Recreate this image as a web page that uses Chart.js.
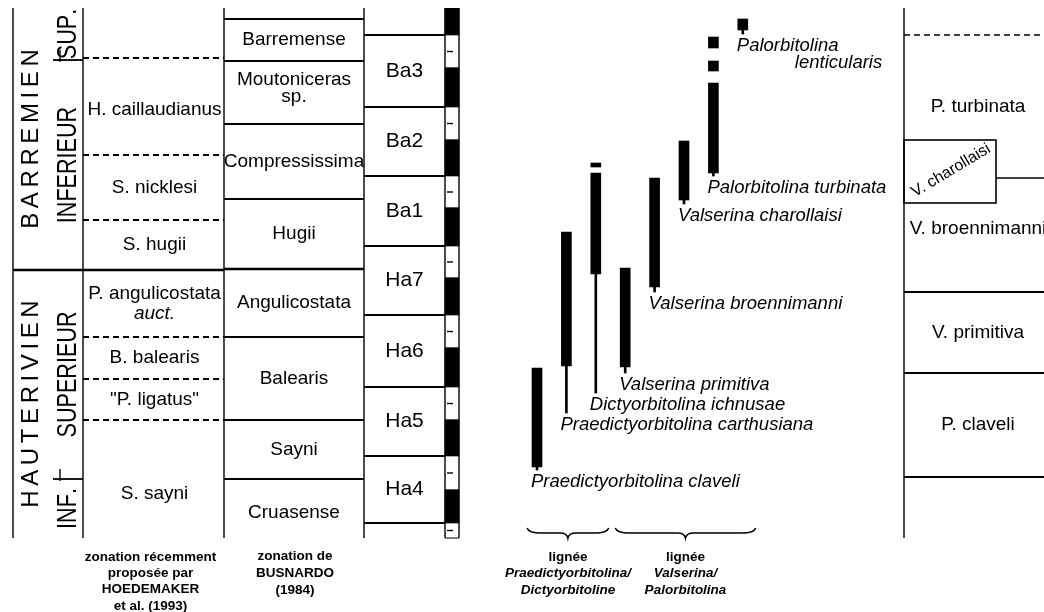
<!DOCTYPE html>
<html lang="fr">
<head>
<meta charset="UTF-8">
<title>Orbitolinidés de l'Hauterivien-Barrémien</title>
<script src="https://cdn.jsdelivr.net/npm/chart.js"></script>
<style>
  body { margin: 0; background: #fff; }
  canvas { display: block; }
</style>
</head>
<body>
<canvas id="zonation" width="1044" height="612"></canvas>
<script>
// niveaux en unités relatives : 0 = base du profil, 530 = sommet
const etages = ['BARREMIEN', 'HAUTERIVIEN'];
const limitesEtages = [530, 268, 0];
const sousEtages = ['SUP.', 'INFERIEUR', 'SUPERIEUR', 'INF.'];
const limitesSousEtages = [530, 478, 268, 59, 0];

// zonation HOEDEMAKER et al. (1993) ; la zone à S. sayni se poursuit sous le profil
const zonesHoedemaker = [['H. caillaudianus'], ['S. nicklesi'], ['S. hugii'], ['P. angulicostata', 'auct.'], ['B. balearis'], ['"P. ligatus"'], ['S. sayni']];
const limitesHoedemaker = [480, 383, 318, 268, 201, 159, 118, -30];

// zonation BUSNARDO (1984)
const zonesBusnardo = [['Barremense'], ['Moutoniceras', 'sp.'], ['Compressissima'], ['Hugii'], ['Angulicostata'], ['Balearis'], ['Sayni'], ['Cruasense']];
const limitesBusnardo = [519, 477, 414, 339, 269, 201, 118, 59, -9];

const zonesAmmonites = ['Ba3', 'Ba2', 'Ba1', 'Ha7', 'Ha6', 'Ha5', 'Ha4'];
const limitesAmmonites = [503, 431, 362, 292, 223, 151, 82, 15];

// intervalles en noir de la colonne de polarité
const polariteNoire = [[503, 530], [431, 470], [362, 398], [292, 330], [223, 260], [151, 190], [82, 118], [15, 48]];

// orbitolinidés : extension (trait épais), prolongement (trait fin vers le nom)
const especes = [['Praedictyorbitolina claveli'], ['Praedictyorbitolina carthusiana'], ['Dictyorbitolina ichnusae'], ['Valserina primitiva'], ['Valserina broennimanni'], ['Valserina charollaisi'], ['Palorbitolina turbinata'], ['Palorbitolina', 'lenticularis']];
const extensions = [[71, 170], [172, 306], [264, 365], [171, 270], [251, 360], [338, 397], [365, 455], [508, 519]];
const prolongements = [[68, 71], [125, 172], [145, 264], [165, 171], [246, 251], [334, 338], [362, 365], [504, 508]];
const occIsoleesEspece = [2, 6, 6];
const occIsolees = [[371, 375], [467, 477], [490, 501]];

const lignees = [['lignée', 'Praedictyorbitolina/', 'Dictyorbitoline'], ['lignée', 'Valserina/', 'Palorbitolina']];
const groupesLignees = [[0, 2], [3, 7]];
const legendesColonnes = [['zonation récemment', 'proposée par', 'HOEDEMAKER', 'et al. (1993)'], ['zonation de', 'BUSNARDO', '(1984)']];

// biozones à orbitolinidés
const zonesOrbitolines = ['P. turbinata', 'V. charollaisi', 'V. broennimanni', 'V. primitiva', 'P. claveli'];
const limitesOrbitolines = [[503, 360], [398, 335], [360, 246], [246, 165], [165, 61]];

// mise en page des colonnes
const X = { etage: 13, sousEtage: 83, hoed: 224, busn: 364, amm: 445, mag: 459, orb: 904, charol: 996, fin: 1044 };
const xEspece = i => 537 + i * 29.4;
const POLICE = "'Liberation Sans', Arial, Helvetica, sans-serif";

function trait(ctx, x1, y1, x2, y2, w, tirets) {
    ctx.beginPath();
    ctx.lineWidth = w;
    ctx.setLineDash(tirets || []);
    ctx.moveTo(x1, y1);
    ctx.lineTo(x2, y2);
    ctx.stroke();
}

function lignesTexte(ctx, lignes, x, y, font, interligne, align) {
    ctx.textAlign = align || 'center';
    ctx.textBaseline = 'middle';
    const y0 = y - (lignes.length - 1) * interligne / 2;
    lignes.forEach((l, k) => {
        ctx.font = (l === 'auct.' ? 'italic ' : '') + font;
        ctx.fillText(l, x, y0 + k * interligne);
    });
}

function texteVertical(ctx, str, cx, cy, taille, espacement, compression) {
    ctx.save();
    ctx.translate(cx, cy);
    ctx.rotate(-Math.PI / 2);
    ctx.scale(compression, 1);
    ctx.font = taille + 'px ' + POLICE;
    ctx.textAlign = 'left';
    ctx.textBaseline = 'middle';
    const car = [...str];
    const larg = car.map(c => ctx.measureText(c).width);
    let pos = -(larg.reduce((a, b) => a + b, 0) + espacement * (car.length - 1)) / 2;
    car.forEach((c, i) => { ctx.fillText(c, pos, 0); pos += larg[i] + espacement; });
    ctx.restore();
}

function accolade(ctx, x1, x2, yHaut, h) {
    const xm = (x1 + x2) / 2, ym = yHaut + h / 2;
    ctx.beginPath();
    ctx.lineWidth = 1.6;
    ctx.setLineDash([]);
    ctx.moveTo(x1, yHaut);
    ctx.quadraticCurveTo(x1 + 2, ym, x1 + 14, ym);
    ctx.lineTo(xm - 8, ym);
    ctx.quadraticCurveTo(xm - 1, ym, xm, yHaut + h);
    ctx.quadraticCurveTo(xm + 1, ym, xm + 8, ym);
    ctx.lineTo(x2 - 14, ym);
    ctx.quadraticCurveTo(x2 - 2, ym, x2, yHaut);
    ctx.stroke();
}

const colonnes = {
    id: 'colonnes',
    beforeDatasetsDraw(chart) {
        const { ctx, scales: { x, y } } = chart;
        const px = v => x.getPixelForValue(v);
        const py = v => y.getPixelForValue(v);
        ctx.save();
        ctx.strokeStyle = '#000';

        // cadre vertical des colonnes
        [X.etage, X.sousEtage, X.hoed, X.busn, X.amm, X.mag, X.orb].forEach(c =>
            trait(ctx, px(c), py(530), px(c), py(0), 1.4));

        // limite Barrémien / Hauterivien
        trait(ctx, px(X.etage), py(limitesEtages[1]), px(X.hoed), py(limitesEtages[1]), 2.6);

        // limites des sous-étages
        [limitesSousEtages[1], limitesSousEtages[3]].forEach(v => {
            trait(ctx, px(X.sousEtage) - 30, py(v), px(X.sousEtage), py(v), 1.8);
            trait(ctx, px(X.sousEtage) - 23, py(v) - 10, px(X.sousEtage) - 23, py(v) + 2, 1.4);
        });

        // zones Hoedemaker (tiretés)
        limitesHoedemaker.forEach(v => {
            if (v === limitesEtages[1] || v <= 0) return;
            trait(ctx, px(X.sousEtage), py(v), px(X.hoed), py(v), 1.8, [6, 4]);
        });

        // zones Busnardo
        limitesBusnardo.forEach(v => {
            if (v <= 0) return;
            trait(ctx, px(X.hoed), py(v), px(X.busn), py(v), v === 269 ? 2.6 : 1.8);
        });

        // zones Ba / Ha
        limitesAmmonites.forEach(v => trait(ctx, px(X.busn), py(v), px(X.amm), py(v), 1.8));

        // repères des intervalles blancs de la polarité
        polariteNoire.forEach((r, i) => {
            const bas = i + 1 < polariteNoire.length ? polariteNoire[i + 1][1] : 0;
            const mil = (r[0] + bas) / 2;
            trait(ctx, px(X.amm) + 2, py(mil), px(X.amm) + 8, py(mil), 1.4);
            trait(ctx, px(X.amm), py(bas), px(X.mag), py(bas), 1);
        });

        // biozones à orbitolinidés
        const [turb, charol, broen, prim, clav] = limitesOrbitolines;
        trait(ctx, px(X.orb), py(turb[0]), px(X.fin), py(turb[0]), 1.6, [6, 4]);
        ctx.setLineDash([]);
        ctx.lineWidth = 1.6;
        ctx.strokeRect(px(X.orb), py(charol[0]), px(X.charol) - px(X.orb), py(charol[1]) - py(charol[0]));
        trait(ctx, px(X.charol), py(broen[0]), px(X.fin), py(broen[0]), 1.6);
        [prim[0], clav[0], clav[1]].forEach(v => trait(ctx, px(X.orb), py(v), px(X.fin), py(v), 1.8));
        ctx.restore();
    },
    afterDatasetsDraw(chart) {
        const { ctx, chartArea, scales: { x, y } } = chart;
        const px = v => x.getPixelForValue(v);
        const py = v => y.getPixelForValue(v);
        const milieu = (a, b) => (py(a) + py(b)) / 2;
        ctx.save();
        ctx.fillStyle = '#000';
        ctx.strokeStyle = '#000';

        etages.forEach((e, i) =>
            texteVertical(ctx, e, px(X.etage) + 18, milieu(limitesEtages[i], limitesEtages[i + 1]), 24, 4.6, 1));
        sousEtages.forEach((s, i) =>
            texteVertical(ctx, s, px(X.sousEtage) - 14, milieu(limitesSousEtages[i], limitesSousEtages[i + 1]), 27, 0, 0.8));

        const f19 = '19px ' + POLICE;
        zonesHoedemaker.forEach((z, i) =>
            lignesTexte(ctx, z, (px(X.sousEtage) + px(X.hoed)) / 2 + 1, milieu(limitesHoedemaker[i], limitesHoedemaker[i + 1]) + (i === 0 ? 3 : 0), f19, 20));
        zonesBusnardo.forEach((z, i) =>
            lignesTexte(ctx, z, (px(X.hoed) + px(X.busn)) / 2, milieu(limitesBusnardo[i], limitesBusnardo[i + 1]) - (z.length > 1 ? 4 : 0), f19, 17));
        zonesAmmonites.forEach((z, i) =>
            lignesTexte(ctx, [z], (px(X.busn) + px(X.amm)) / 2, milieu(limitesAmmonites[i], limitesAmmonites[i + 1]), '21px ' + POLICE, 0));

        // noms des espèces sous leur trait
        const fEsp = 'italic 18.5px ' + POLICE;
        especes.forEach((noms, i) => {
            const xg = px(xEspece(i)) - 6;
            const yh = py(prolongements[i][0]) + 12;
            ctx.font = fEsp;
            ctx.textAlign = 'left';
            ctx.textBaseline = 'middle';
            noms.forEach((n, k) => ctx.fillText(n, xg + k * 58, yh + k * 17));
        });

        // biozones à orbitolinidés
        const xc = (px(X.orb) + px(X.fin)) / 2 + 4;
        zonesOrbitolines.forEach((z, i) => {
            const [h, b] = limitesOrbitolines[i];
            if (i === 1) {
                ctx.save();
                ctx.translate((px(X.orb) + px(X.charol)) / 2 + 1, milieu(h, b) - 1);
                ctx.rotate(-31 * Math.PI / 180);
                ctx.font = '16px ' + POLICE;
                ctx.textAlign = 'center';
                ctx.textBaseline = 'middle';
                ctx.fillText(z, 0, 0);
                ctx.restore();
            } else {
                lignesTexte(ctx, [z], xc, milieu(h, b) - (i === 2 ? 6 : 0), f19, 0);
            }
        });

        // légendes sous les colonnes
        const yLeg = chartArea.bottom + 19;
        const fLeg = 'bold 13.5px ' + POLICE;
        lignesTexte(ctx, legendesColonnes[0], (px(X.sousEtage) + px(X.hoed)) / 2 - 3, yLeg + 1.5 * 16.3, fLeg, 16.3);
        lignesTexte(ctx, legendesColonnes[1], (px(X.hoed) + px(X.busn)) / 2 + 1, yLeg + 16.3, fLeg, 17);

        // accolades et lignées
        lignees.forEach((l, i) => {
            const [a, b] = groupesLignees[i];
            const x1 = px(xEspece(a)) - 10, x2 = px(xEspece(b)) + 13;
            accolade(ctx, x1, x2, chartArea.bottom - 10, 10);
            ctx.textAlign = 'center';
            ctx.textBaseline = 'middle';
            l.forEach((t, k) => {
                ctx.font = (k ? 'italic ' : '') + fLeg;
                ctx.fillText(t, (x1 + x2) / 2, yLeg + k * 16.5);
            });
        });
        ctx.restore();
    }
};

const noir = '#000';
new Chart(document.getElementById('zonation'), {
    type: 'bar',
    data: {
        datasets: [
            { label: 'polarité', data: polariteNoire.map(r => ({ x: (X.amm + X.mag) / 2, y: r })), backgroundColor: noir, barThickness: 14, grouped: false },
            { label: 'prolongements', data: prolongements.map((r, i) => ({ x: xEspece(i), y: r })), backgroundColor: noir, barThickness: 2, grouped: false },
            { label: 'extensions', data: extensions.map((r, i) => ({ x: xEspece(i), y: r })), backgroundColor: noir, barThickness: 10, grouped: false },
            { label: 'occurrences isolées', data: occIsolees.map((r, i) => ({ x: xEspece(occIsoleesEspece[i]), y: r })), backgroundColor: noir, barThickness: 10, grouped: false }
        ]
    },
    options: {
        responsive: false,
        animation: false,
        layout: { padding: { top: 8, bottom: 74, left: 0, right: 0 } },
        scales: {
            x: { type: 'linear', min: 0, max: 1044, offset: false, display: false },
            y: { type: 'linear', min: 0, max: 530, display: false }
        },
        plugins: {
            legend: { display: false },
            tooltip: { enabled: false }
        }
    },
    plugins: [colonnes]
});
</script>
</body>
</html>
